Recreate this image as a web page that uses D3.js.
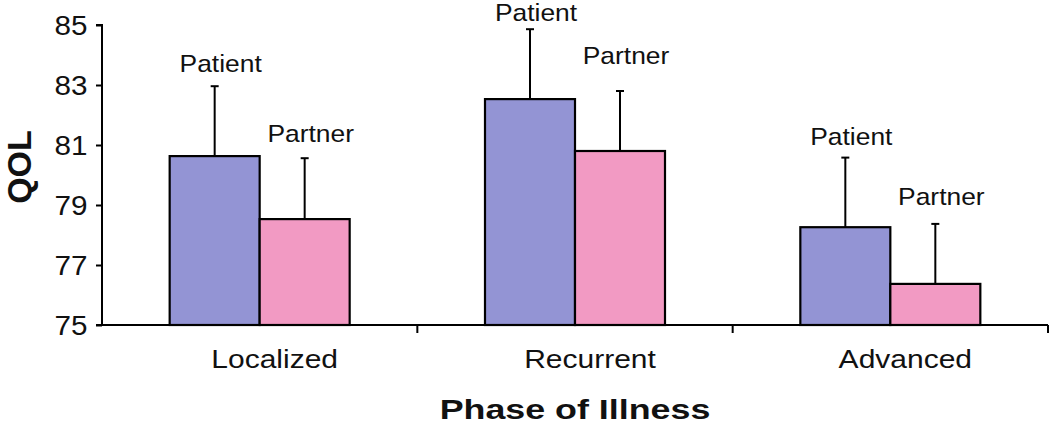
<!DOCTYPE html>
<html>
<head>
<meta charset="utf-8">
<script src="https://cdn.jsdelivr.net/npm/d3@7"></script>
<style>
  html, body { margin: 0; padding: 0; background: #fff; }
  svg { display: block; font-family: "Liberation Sans", Arial, Helvetica, sans-serif; }
</style>
</head>
<body>
<svg id="chart" width="1050" height="428"></svg>
<script>
// ---- data ----
const categories = ["Localized", "Recurrent", "Advanced"];
const seriesNames = ["Patient", "Partner"];
const patientValues = [80.63, 82.53, 78.26];
const partnerValues = [78.53, 80.80, 76.37];
const patientErrors = [2.33, 2.33, 2.32];
const partnerErrors = [2.03, 2.00, 2.00];
const yTicks = [75, 77, 79, 81, 83, 85];
const yLabel = "QOL";
const xLabel = "Phase of Illness";

// ---- layout / style ----
const colors = { Patient: "#9394d4", Partner: "#f29ac3" };
const labelNudge = { Patient: [-14, -8, -13], Partner: [-16, -27, -19] };

const svg = d3.select("#chart");
const x0 = 102, x1 = 1048, yTop = 25, yBot = 325;

const x = d3.scaleBand().domain(categories).range([x0, x1]).padding(0);
const groupW = 180;
const xi = d3.scaleBand().domain(seriesNames)
  .range([x.bandwidth() / 2 - groupW / 2, x.bandwidth() / 2 + groupW / 2]).padding(0);
const y = d3.scaleLinear().domain([75, 85]).range([yBot, yTop]);

const rows = [];
categories.forEach((c, i) => {
  rows.push({ cat: c, s: "Patient", v: patientValues[i], e: patientErrors[i], i });
  rows.push({ cat: c, s: "Partner", v: partnerValues[i], e: partnerErrors[i], i });
});

// bars
svg.append("g").selectAll("rect").data(rows).join("rect")
  .attr("x", d => x(d.cat) + xi(d.s))
  .attr("y", d => y(d.v))
  .attr("width", xi.bandwidth())
  .attr("height", d => y(75) - y(d.v))
  .attr("fill", d => colors[d.s])
  .attr("stroke", "#000")
  .attr("stroke-width", 2.2);

// error bars
const eg = svg.append("g").attr("stroke", "#000").attr("stroke-width", 2);
rows.forEach(d => {
  const cx = x(d.cat) + xi(d.s) + xi.bandwidth() / 2;
  eg.append("line").attr("x1", cx).attr("x2", cx).attr("y1", y(d.v)).attr("y2", y(d.v + d.e));
  eg.append("line").attr("x1", cx - 4).attr("x2", cx + 4).attr("y1", y(d.v + d.e)).attr("y2", y(d.v + d.e));
});

// helper for horizontally stretched text
function stretchedText(g, txt, tx, ty, size, sx, weight) {
  return g.append("text")
    .attr("transform", `translate(${tx},${ty}) scale(${sx},1)`)
    .attr("text-anchor", "middle")
    .attr("font-size", size)
    .attr("font-weight", weight || "normal")
    .attr("fill", "#111")
    .text(txt);
}

// series labels
const lg = svg.append("g");
rows.forEach(d => {
  const cx = x(d.cat) + xi(d.s) + xi.bandwidth() / 2;
  stretchedText(lg, d.s, cx + 6, y(d.v + d.e) + labelNudge[d.s][d.i], 24, 1.1);
});

// y axis
const yAxis = d3.axisLeft(y).tickValues(yTicks).tickSize(6).tickFormat(d3.format("d"));
const ya = svg.append("g").attr("transform", `translate(${x0},0)`).call(yAxis);
ya.select(".domain").attr("stroke", "#000").attr("stroke-width", 2).attr("d", `M-6,${yTop}H0V${yBot}H-6`);
ya.selectAll(".tick line").attr("stroke", "#000").attr("stroke-width", 2);
ya.selectAll(".tick text").remove();
yTicks.forEach(t => {
  stretchedText(svg, d3.format("d")(t), 71, y(t) + 10, 28, 1.06).attr("fill", "#111");
});

// x axis
const xa = svg.append("g").attr("transform", `translate(0,${yBot})`);
xa.append("line").attr("x1", x0).attr("x2", x1).attr("y1", 0).attr("y2", 0)
  .attr("stroke", "#000").attr("stroke-width", 2);
categories.forEach(c => {
  const bx = x(c) + x.bandwidth();
  xa.append("line").attr("x1", bx).attr("x2", bx).attr("y1", 0).attr("y2", 8)
    .attr("stroke", "#000").attr("stroke-width", 2);
  stretchedText(svg, c, x(c) + x.bandwidth() / 2 + 15, 368, 25, 1.2);
});

// axis titles
stretchedText(svg, xLabel, 575, 419, 28, 1.28, "bold");
svg.append("text")
  .attr("transform", `translate(31,167) rotate(-90)`)
  .attr("text-anchor", "middle")
  .attr("font-size", 34)
  .attr("font-weight", "bold")
  .attr("fill", "#111")
  .text(yLabel);
</script>
</body>
</html>
